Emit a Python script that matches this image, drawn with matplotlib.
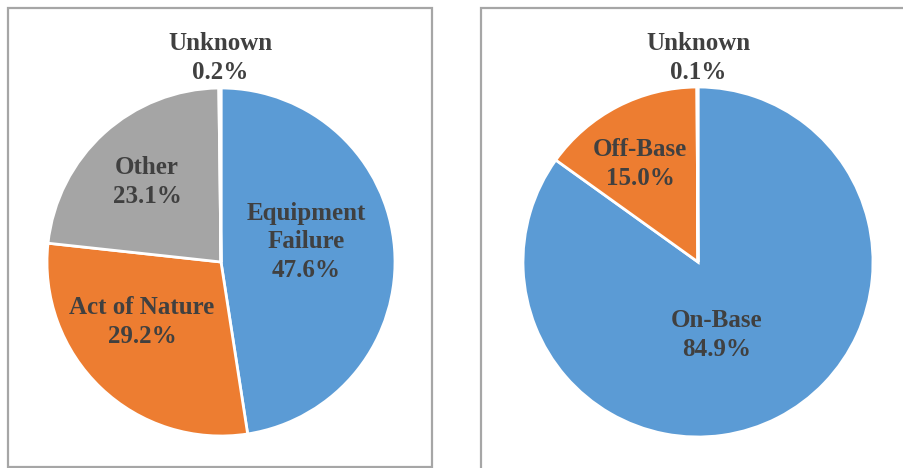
import matplotlib.pyplot as plt
from matplotlib.patches import Rectangle

# outage cause (left) and location (right)
cause_labels = ["Equipment\nFailure", "Act of Nature", "Other", "Unknown"]
cause_pct = [47.6, 29.2, 23.1, 0.2]
loc_labels = ["On-Base", "Off-Base", "Unknown"]
loc_pct = [84.9, 15.0, 0.1]

blue, orange, gray, yellow = "#5B9BD5", "#ED7D31", "#A5A5A5", "#FFC000"
txt_col = "#404040"
W, H = 904, 468

fig = plt.figure(figsize=(W / 100, H / 100), dpi=100)
ax = fig.add_axes([0, 0, 1, 1])

# boxes round each chart (pixel coords, y flipped)
ax.add_patch(Rectangle((8, H - 467), 424, 459, fill=False, ec="#A6A6A6", lw=1.6))
ax.add_patch(Rectangle((481, H - 480), 440, 472, fill=False, ec="#A6A6A6", lw=1.6))

wp = dict(edgecolor="white", linewidth=2)
ax.pie(cause_pct, colors=[blue, orange, gray, yellow], startangle=90,
       counterclock=False, center=(221, H - 262), radius=174, wedgeprops=wp)
ax.pie(loc_pct, colors=[blue, orange, gray], startangle=90,
       counterclock=False, center=(698, H - 262), radius=175, wedgeprops=wp)

font = dict(family="Liberation Serif", weight="bold", size=18, color=txt_col,
            ha="center", va="center", linespacing=1.32)

# label positions (pixel x, y)
cause_pos = [(306, 242), (142, 322), (147, 182), (220, 58)]
loc_pos = [(717, 335), (640, 164), (698, 58)]

for lab, p, (x, y) in zip(cause_labels, cause_pct, cause_pos):
    ax.text(x, H - y, f"{lab}\n{p:.1f}%", **font)
for lab, p, (x, y) in zip(loc_labels, loc_pct, loc_pos):
    ax.text(x, H - y, f"{lab}\n{p:.1f}%", **font)

ax.set_xlim(0, W)
ax.set_ylim(0, H)
ax.set_aspect("auto")
ax.set_axis_off()

fig.savefig("out.png", dpi=100)
